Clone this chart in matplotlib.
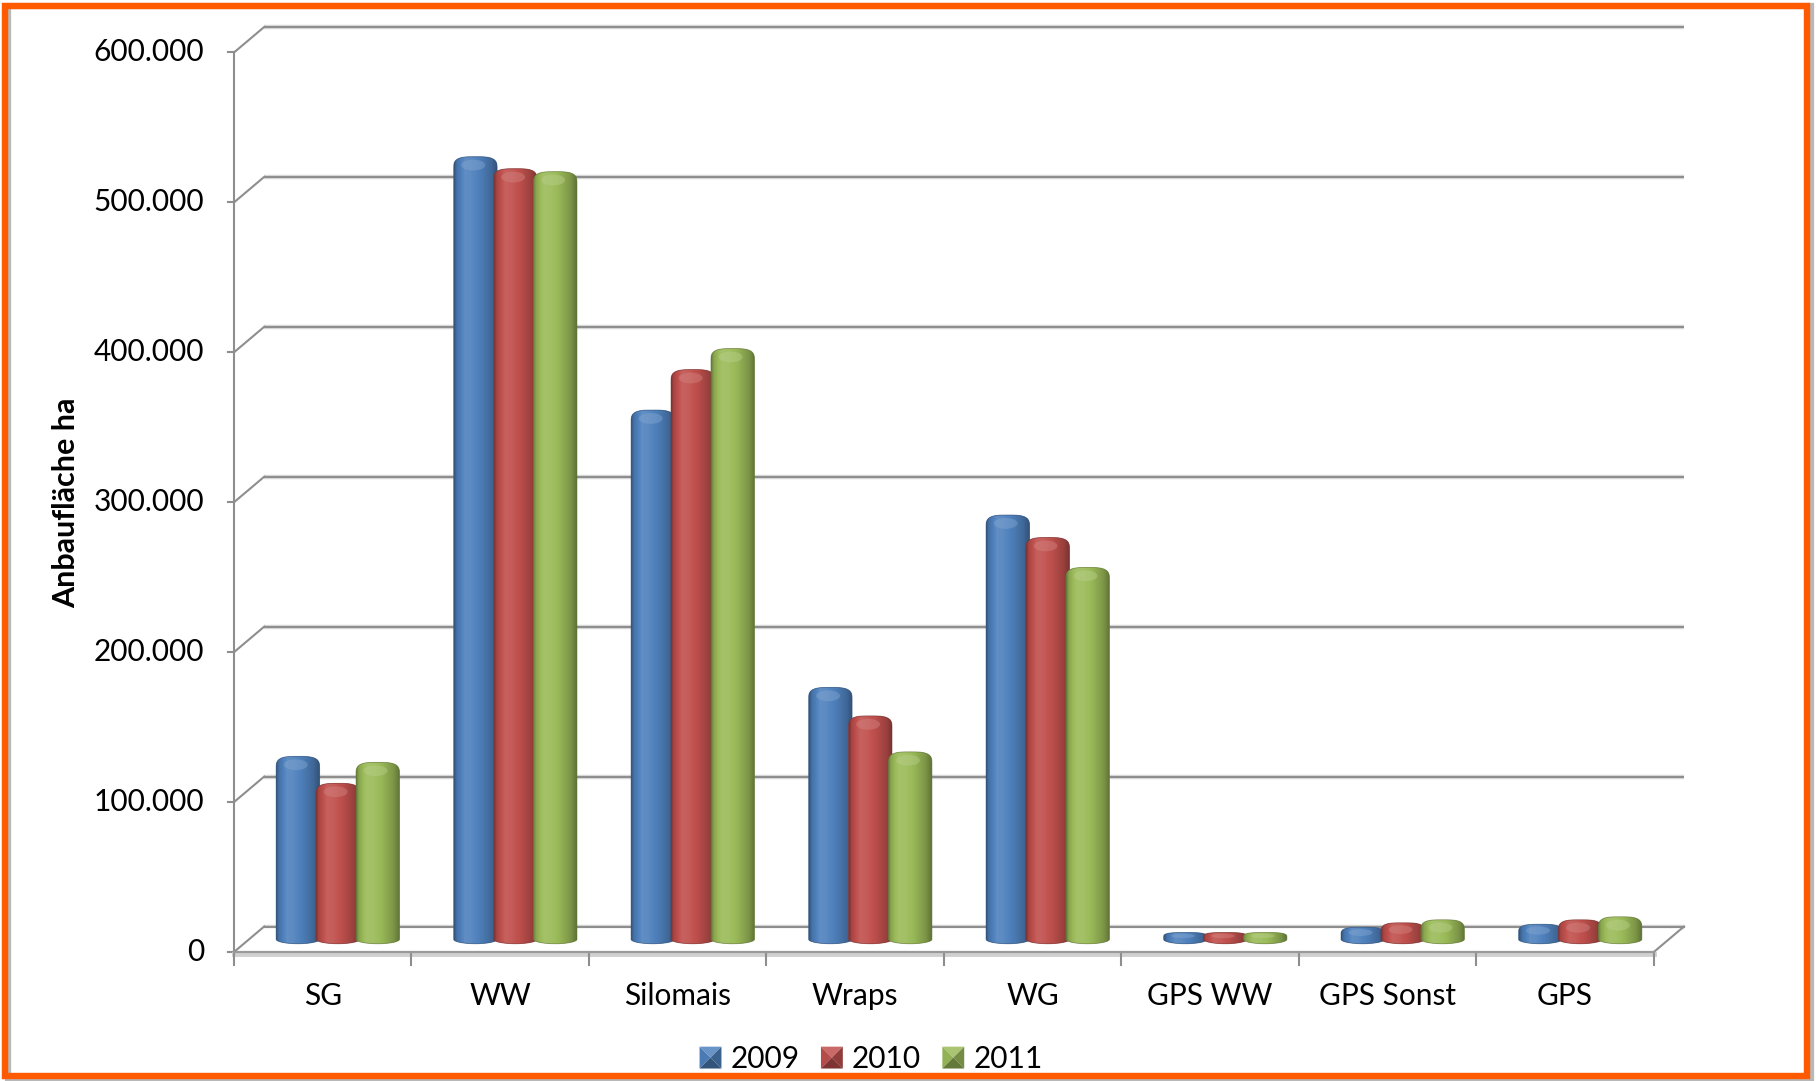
import numpy as np
import matplotlib
matplotlib.use("Agg")
import matplotlib.pyplot as plt
from matplotlib.path import Path
from matplotlib.patches import PathPatch, Polygon, Rectangle, Ellipse
from matplotlib.legend_handler import HandlerBase
from matplotlib.colors import to_rgb

plt.rcParams['font.family'] = ['Lato', 'DejaVu Sans']

# ---------------- data ----------------
categories = ["SG", "WW", "Silomais", "Wraps", "WG", "GPS WW", "GPS Sonst", "GPS"]
years = ["2009", "2010", "2011"]
v2009 = [119000, 519000, 350000, 165000, 280000, 1500, 5000, 7000]
v2010 = [101000, 511000, 377000, 146000, 265000, 1500, 8000, 10000]
v2011 = [115000, 509000, 391000, 122000, 245000, 1500, 10000, 12000]
series = [v2009, v2010, v2011]
colors = ["#4F81BD", "#C0504D", "#9BBB59"]
yticks = [0, 100000, 200000, 300000, 400000, 500000, 600000]
ytick_labels = ["0", "100.000", "200.000", "300.000", "400.000", "500.000", "600.000"]
ylabel = "Anbaufläche ha"

# ---------------- geometry (pseudo 3D) ----------------
DX = 0.17        # depth offset in category units
DY = 17000       # depth offset in value units
BAR_W = 0.245
BAR_STEP = 0.225
CAP_TOP = 8000   # dome half height (value units)
CAP_BOT = 3000   # bottom ellipse half height
GRID_C = "#8E8E8E"

W, H = 1816, 1081
fig = plt.figure(figsize=(W / 100, H / 100), dpi=100)
fig.patch.set_facecolor("white")

ax_l, ax_r = 234, 1684
ax_b, ax_t = 952, 27
ax = fig.add_axes([ax_l / W, 1 - ax_b / H, (ax_r - ax_l) / W, (ax_b - ax_t) / H])
ncat = len(categories)
ax.axis("off")

x_left = -0.5
x_right = ncat - 0.5

# back wall gridlines + diagonals
for v, lab in zip(yticks, ytick_labels):
    ax.plot([x_left + DX, x_right + DX], [v + DY, v + DY], color="#DADADA", lw=3.2,
            solid_capstyle="butt", zorder=1, clip_on=False)
    ax.plot([x_left + DX, x_right + DX], [v + DY, v + DY], color=GRID_C, lw=1.5,
            solid_capstyle="butt", zorder=1.1, clip_on=False)
    ax.plot([x_left, x_left + DX], [v, v + DY], color=GRID_C, lw=1.5, zorder=1.1, clip_on=False)
    ax.plot([x_left - 0.035, x_left], [v, v], color=GRID_C, lw=1.5, zorder=1.1, clip_on=False)
    ax.annotate(lab, xy=(x_left, v), xytext=(-30, 0),
                textcoords="offset pixels", ha="right", va="center",
                fontsize=21.5, color="black", annotation_clip=False)

# front value axis
ax.plot([x_left, x_left], [0, yticks[-1]], color=GRID_C, lw=1.5, zorder=1.1, clip_on=False)

# floor
floor = Polygon([[x_left, 0], [x_right, 0], [x_right + DX, DY], [x_left + DX, DY]],
                closed=True, facecolor="white", edgecolor="none", zorder=1.05)
ax.add_patch(floor)
ax.plot([x_left + DX, x_right + DX], [DY, DY], color=GRID_C, lw=1.5, zorder=1.1, clip_on=False)
ax.plot([x_left, x_right], [-1500, -1500], color="#D0D0D0", lw=3.5, zorder=1.1, clip_on=False)
ax.plot([x_left, x_right], [0, 0], color="#9A9A9A", lw=1.6, zorder=1.2, clip_on=False)
ax.plot([x_right, x_right + DX], [0, DY], color=GRID_C, lw=1.5, zorder=1.1, clip_on=False)

# category ticks and labels
for i in range(ncat + 1):
    xt = x_left + i
    ax.plot([xt, xt], [0, -9000], color=GRID_C, lw=1.5, zorder=1.1, clip_on=False)
for i, c in enumerate(categories):
    ax.annotate(c, xy=(i, 0), xytext=(0, -44), textcoords="offset pixels",
                ha="center", va="center", fontsize=21.5, color="black", annotation_clip=False)

# y label
fig.text(66 / W, 1 - 503 / H, ylabel, rotation=90, ha="center", va="center",
         fontsize=22, fontweight="bold", color="black")


def shade(rgb, f):
    rgb = np.array(rgb)
    if f <= 1:
        return rgb * f
    return rgb + (1 - rgb) * (f - 1)


prof_t = np.array([0.0, 0.06, 0.25, 0.40, 0.62, 0.86, 1.0])
prof_f = np.array([0.66, 0.88, 1.10, 1.07, 0.96, 0.80, 0.62])


def gradient_image(color, n=64):
    base = to_rgb(color)
    ts = np.linspace(0, 1, n)
    fs = np.interp(ts, prof_t, prof_f)
    row = np.array([shade(base, f) for f in fs])
    return np.clip(row[None, :, :], 0, 1)


def cylinder_path(cx, a, y0, y1, bt, bb):
    t_top = np.linspace(np.pi, 0, 50)
    t_bot = np.linspace(0, -np.pi, 50)
    verts = [(cx - a, y0), (cx - a, y1)]
    verts += [(cx + a * np.sign(np.cos(t)) * abs(np.cos(t)) ** 0.6,
               y1 + bt * abs(np.sin(t)) ** 0.6) for t in t_top]
    verts += [(cx + a, y0)]
    verts += [(cx + a * np.cos(t), y0 + bb * np.sin(t)) for t in t_bot]
    verts += [(cx - a, y0)]
    codes = [Path.MOVETO] + [Path.LINETO] * (len(verts) - 2) + [Path.CLOSEPOLY]
    return Path(verts, codes)


z = 3
for i in range(ncat):
    for j, (vals, col) in enumerate(zip(series, colors)):
        v = vals[i]
        cx = i + DX / 2 + (j - 1) * BAR_STEP
        a = BAR_W / 2
        y0 = DY / 2
        bt = min(CAP_TOP, 2500 + 0.5 * v)
        y1 = max(y0, DY / 2 + v + 3000 - bt)
        path = cylinder_path(cx, a, y0, y1, bt, CAP_BOT)
        patch = PathPatch(path, facecolor=col, edgecolor="none", zorder=z)
        ax.add_patch(patch)
        im = ax.imshow(gradient_image(col), extent=[cx - a, cx + a, y0 - CAP_BOT, y1 + bt],
                       aspect="auto", interpolation="bilinear", zorder=z + 0.1)
        im.set_clip_path(patch)
        hl = Ellipse((cx - a * 0.1, y1 + bt * 0.3), a * 1.1, bt * 0.9,
                     facecolor=shade(to_rgb(col), 1.3), edgecolor="none", alpha=0.45,
                     zorder=z + 0.2)
        ax.add_patch(hl)
        hl.set_clip_path(patch)
        edge = PathPatch(path, facecolor="none", edgecolor=shade(to_rgb(col), 0.6),
                         lw=0.6, alpha=0.6, zorder=z + 0.3)
        ax.add_patch(edge)
        z += 0.5

ax.set_xlim(-0.5, ncat - 0.5 + DX)
ax.set_ylim(0, yticks[-1] + DY)


class PyramidHandler(HandlerBase):
    def create_artists(self, legend, orig_handle, xdescent, ydescent, width, height,
                       fontsize, trans):
        s = min(width, height)
        x0 = -xdescent + (width - s) / 2
        y0 = -ydescent + (height - s) / 2
        cx, cy = x0 + s / 2, y0 + s / 2
        base = to_rgb(orig_handle.get_facecolor())
        tris = [
            ([(x0, y0 + s), (x0 + s, y0 + s), (cx, cy)], 1.15),
            ([(x0, y0), (x0, y0 + s), (cx, cy)], 0.95),
            ([(x0 + s, y0), (x0 + s, y0 + s), (cx, cy)], 0.75),
            ([(x0, y0), (x0 + s, y0), (cx, cy)], 0.65),
        ]
        arts = []
        for pts, f in tris:
            p = Polygon(pts, closed=True, facecolor=np.clip(shade(base, f), 0, 1),
                        edgecolor="none", transform=trans)
            arts.append(p)
        return arts


handles = [Rectangle((0, 0), 1, 1, facecolor=c) for c in colors]
fig.legend(handles, years, loc="center", bbox_to_anchor=(871 / W, 1 - 1059 / H), ncol=3,
           frameon=False, fontsize=21.5, handlelength=0.75, handleheight=0.75,
           handletextpad=0.3, columnspacing=0.7,
           handler_map={Rectangle: PyramidHandler()})

# orange frame with shadow
fig.patches.append(Rectangle((8 / W, 3 / H), (W - 13) / W, (H - 9) / H,
                             transform=fig.transFigure, fill=False,
                             edgecolor="#B8B8B8", lw=4.5, zorder=0))
fig.patches.append(Rectangle((5 / W, 5.5 / H), (W - 14) / W, (H - 11) / H,
                             transform=fig.transFigure, fill=False,
                             edgecolor="#FF5A00", lw=4.6, zorder=1))

fig.savefig("out.png", dpi=100, facecolor="white")
